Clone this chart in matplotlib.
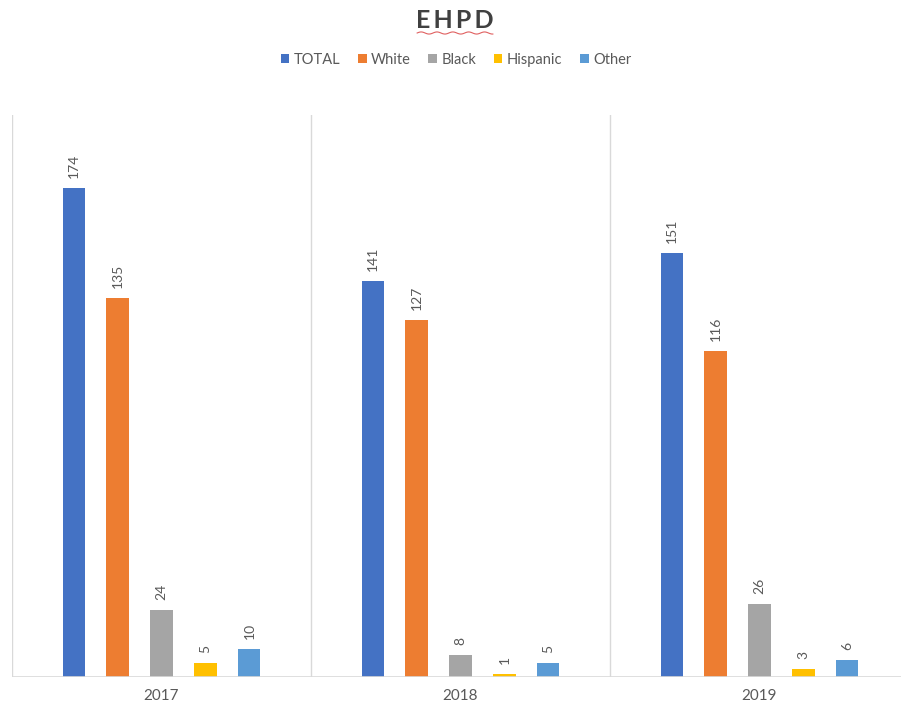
import numpy as np
import matplotlib.pyplot as plt
from matplotlib.lines import Line2D

plt.rcParams['font.family'] = ['Lato', 'DejaVu Sans']

# Data
years = ['2017', '2018', '2019']
series = ['TOTAL', 'White', 'Black', 'Hispanic', 'Other']
total = [174, 141, 151]
white = [135, 127, 116]
black = [24, 8, 26]
hispanic = [5, 1, 3]
other = [10, 5, 6]
colors = ['#4472C4', '#ED7D31', '#A5A5A5', '#FFC000', '#5B9BD5']

values = [total, white, black, hispanic, other]

fig = plt.figure(figsize=(9.01, 7.08), dpi=100)
ax = fig.add_axes([12 / 901, 1 - 677 / 708, 889 / 901, (677 - 115) / 708])

x = np.arange(len(years))
step = 0.147
width = 0.074
for i, (name, vals, c) in enumerate(zip(series, values, colors)):
    pos = x + (i - 2) * step
    bars = ax.bar(pos, vals, width, color=c, label=name, zorder=3)
    for b, v in zip(bars, vals):
        ax.annotate(str(v), (b.get_x() + b.get_width() / 2, b.get_height()),
                    xytext=(0, 7), textcoords='offset points',
                    rotation=90, ha='center', va='bottom',
                    fontsize=10, color='#595959')

# Category separators and baseline
for sep in [-0.5, 0.5, 1.5, 2.5]:
    ax.axvline(sep, color='#D9D9D9', linewidth=1, zorder=1)
ax.axhline(0, color='#D9D9D9', linewidth=1.2, zorder=4)

ax.set_xlim(-0.5, (901 - 12) / 299 - 0.5)
ax.set_ylim(0, 200)
ax.set_xticks(x)
ax.set_xticklabels(years, fontsize=11, color='#595959')
ax.tick_params(axis='x', length=0, pad=9)
ax.set_yticks([])
for s in ax.spines.values():
    s.set_visible(False)

# Title and legend
fig.text(0.505, 1 - 20 / 708, 'E\u2009H\u2009P\u2009D', ha='center', va='center',
         fontsize=18, fontweight='bold', color='#404040')
wx = np.linspace(0.505 - 0.042, 0.505 + 0.042, 60)
wy = 1 - 33 / 708 + 0.0015 * np.sin(np.linspace(0, 30, 60))
fig.add_artist(Line2D(wx, wy, color='#E06060', linewidth=0.8))

fig.legend(loc='center', bbox_to_anchor=(0.506, 1 - 60 / 708), ncol=5,
           frameon=False, fontsize=10.5, handlelength=0.6, handleheight=0.6,
           handletextpad=0.3, columnspacing=1.2, labelcolor='#595959')

fig.savefig('out.png', dpi=100, facecolor='white')
